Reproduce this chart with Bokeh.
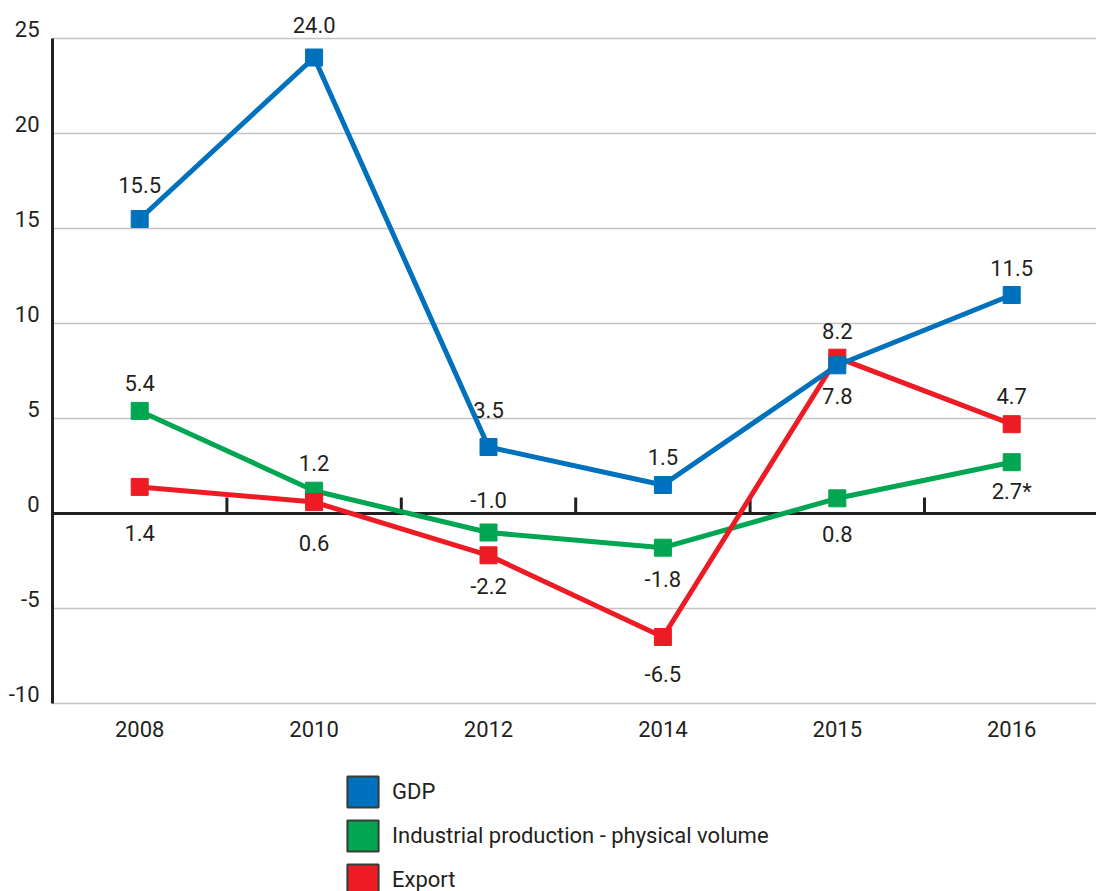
from math import pi

from bokeh.plotting import figure
from bokeh.models import ColumnDataSource, Range1d, Legend, LegendItem
from bokeh.embed import file_html
from bokeh.resources import INLINE
from bokeh.core.properties import value

# ---- data -------------------------------------------------------------
years = ["2008", "2010", "2012", "2014", "2015", "2016"]

gdp = [15.5, 24.0, 3.5, 1.5, 7.8, 11.5]
industrial = [5.4, 1.2, -1.0, -1.8, 0.8, 2.7]
export = [1.4, 0.6, -2.2, -6.5, 8.2, 4.7]

gdp_labels = ["15.5", "24.0", "3.5", "1.5", "7.8", "11.5"]
industrial_labels = ["5.4", "1.2", "-1.0", "-1.8", "0.8", "2.7*"]
export_labels = ["1.4", "0.6", "-2.2", "-6.5", "8.2", "4.7"]

y_ticks = [-10, -5, 0, 5, 10, 15, 20, 25]
y_tick_labels = ["-10", "-5", "0", "5", "10", "15", "20", "25"]
y_min, y_max = -10, 25

# ---- page geometry (pixels) ---------------------------------------------
W, H = 1096, 891
AXIS_X = 52          # left edge of the plotting area
ZERO_Y = 513         # vertical position of the zero line
PX_PER_YEAR = 174.4  # width of one year slot
PX_PER_UNIT = 19.0   # vertical pixels per percentage point

# ---- styling ------------------------------------------------------------
FONT = "Roboto"
FONT_SIZE = "22px"
INK = "#231F20"
BLUE = "#0071BC"
GREEN = "#00A651"
RED = "#ED1C24"
GRID = "#C4C4C4"

# vertical placement of each value label relative to its marker (px, + is down)
gdp_dy = [-34, -33, -37, -28, 31, -27]
industrial_dy = [-28, -28, -33, 31, 36, 29]
export_dy = [46, 41, 31, 37, -27, -28]

# x: one unit per year slot, slot i centred on i + 0.5
xs = [i + 0.5 for i in range(len(years))]
x_start = -AXIS_X / PX_PER_YEAR
x_end = (W - AXIS_X) / PX_PER_YEAR
y_top = ZERO_Y / PX_PER_UNIT
y_bottom = -(H - ZERO_Y) / PX_PER_UNIT

p = figure(width=W, height=H,
           x_range=Range1d(x_start, x_end), y_range=Range1d(y_bottom, y_top),
           x_axis_location=None, y_axis_location=None,
           output_backend="svg", toolbar_location=None)
p.min_border = 0
p.outline_line_color = None
p.background_fill_color = "white"
p.border_fill_color = "white"
p.xgrid.visible = False
p.ygrid.visible = False

# horizontal grid lines (the zero line is drawn separately in black)
grid_y = [t for t in y_ticks if t != 0]
p.segment(x0=[0] * len(grid_y), x1=[x_end] * len(grid_y), y0=grid_y, y1=grid_y,
          line_color=GRID, line_width=1.5)

# vertical axis line
p.segment(x0=[0], x1=[0], y0=[y_min], y1=[y_max], line_color=INK, line_width=3)

# zero line with short ticks between the years
p.segment(x0=[0], x1=[x_end], y0=[0], y1=[0], line_color=INK, line_width=3)
boundaries = list(range(1, len(years)))
p.ray(x=boundaries, y=[0] * len(boundaries), length=16, length_units="screen",
      angle=pi / 2, line_color=INK, line_width=3)

# y tick labels, right-aligned left of the axis and lifted above each grid line
p.text(x=[0] * len(y_ticks), y=y_ticks, text=y_tick_labels,
       x_offset=-13, y_offset=-10, text_align="right", text_baseline="middle",
       text_font=value(FONT), text_font_size=FONT_SIZE, text_color=INK)

# year labels under the plotting area
p.text(x=xs, y=[y_min] * len(xs), text=years, y_offset=25,
       text_align="center", text_baseline="middle",
       text_font=value(FONT), text_font_size=FONT_SIZE, text_color=INK)

series = [
    ("Industrial production - physical volume", industrial, industrial_labels, industrial_dy, GREEN),
    ("Export", export, export_labels, export_dy, RED),
    ("GDP", gdp, gdp_labels, gdp_dy, BLUE),
]

# value labels sit underneath the lines
for name, vals, labels, dy, color in series:
    src = ColumnDataSource(dict(x=xs, y=vals, t=labels, dy=dy))
    p.text(x="x", y="y", text="t", y_offset="dy", source=src,
           text_align="center", text_baseline="middle",
           text_font=value(FONT), text_font_size=FONT_SIZE, text_color=INK)

nan = float("nan")
swatches = {}
for name, vals, labels, dy, color in series:
    src = ColumnDataSource(dict(x=xs, y=vals))
    p.line(x="x", y="y", source=src, line_color=color, line_width=5)
    p.scatter(x="x", y="y", source=src, marker="square", size=17,
              fill_color=color, line_color=color)
    # legend swatch only: a single undefined box that never shows in the plot
    swatches[name] = p.quad(left=[nan], right=[nan], top=[nan], bottom=[nan],
                            fill_color=color, line_color="#3A3A3A", line_width=2)

legend = Legend(
    items=[LegendItem(label="GDP", renderers=[swatches["GDP"]]),
           LegendItem(label="Industrial production - physical volume",
                      renderers=[swatches["Industrial production - physical volume"]]),
           LegendItem(label="Export", renderers=[swatches["Export"]])],
    location=(343, -8), orientation="vertical",
    glyph_width=39, glyph_height=39, spacing=5, padding=0, margin=0,
    label_standoff=10, label_text_font=FONT, label_text_font_size=FONT_SIZE,
    label_text_color=INK, border_line_color=None, background_fill_alpha=0,
)
p.add_layout(legend, "center")

open("out.html", "w").write(file_html(p, INLINE))
